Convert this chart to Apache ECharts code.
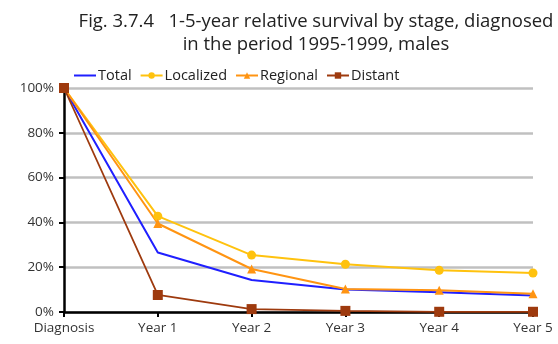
<!DOCTYPE html>
<html>
<head>
<meta charset="utf-8">
<script src="https://cdn.jsdelivr.net/npm/echarts@6/dist/echarts.min.js"></script>
<style>
  html, body { margin: 0; padding: 0; background: #fff; }
  #chart { width: 558px; height: 344px; }
</style>
</head>
<body>
<div id="chart"></div>
<script>
// Relative survival (%) at each follow-up point
const categories = ['Diagnosis', 'Year 1', 'Year 2', 'Year 3', 'Year 4', 'Year 5'];
const total     = [100, 26.6, 14.3, 10.0, 8.8, 7.4];
const localized = [100, 42.8, 25.4, 21.3, 18.6, 17.4];
const regional  = [100, 39.5, 19.2, 10.3, 9.7, 8.2];
const distant   = [100, 7.6, 1.3, 0.5, 0.1, 0.1];
const yTicks = [0, 20, 40, 60, 80, 100];

const chart = echarts.init(document.getElementById('chart'));
const font = '"Open Sans", "Noto Sans", sans-serif';

function line(name, data, color, symbol, size, width) {
  return {
    name, type: 'line', data,
    symbol, symbolSize: size, showSymbol: symbol !== 'none',
    lineStyle: { color, width },
    itemStyle: { color },
    z: 3
  };
}

chart.setOption({
  animation: false,
  title: {
    text: 'Fig. 3.7.4   1-5-year relative survival by stage, diagnosed\nin the period 1995-1999, males',
    left: 311, top: 5, textAlign: 'center',
    textStyle: { fontFamily: font, fontSize: 18.5, fontWeight: 'normal', color: '#222', lineHeight: 23 }
  },
  legend: {
    left: 68, top: 63, itemWidth: 22, itemHeight: 8, itemGap: 8,
    textStyle: { fontFamily: font, fontSize: 14.5, color: '#222', padding: [0, 0, 0, -3] },
    data: [
      { name: 'Total', itemStyle: { opacity: 0 } },
      'Localized', 'Regional', 'Distant'
    ]
  },
  grid: { left: 64, right: 25, top: 88, bottom: 32 },
  xAxis: {
    type: 'category', data: categories, boundaryGap: false,
    axisLine: { lineStyle: { color: '#000', width: 2.5 } },
    axisTick: { show: true, length: 5, lineStyle: { color: '#000', width: 2 } },
    axisLabel: { fontFamily: font, fontSize: 13.5, color: '#333', margin: 9 }
  },
  yAxis: {
    type: 'value', min: 0, max: 100, interval: 20,
    axisLine: { show: true, lineStyle: { color: '#000', width: 2.5 } },
    axisTick: { show: true, length: 5, lineStyle: { color: '#000', width: 2 } },
    axisLabel: {
      fontFamily: font, fontSize: 13.5, color: '#333', margin: 10,
      formatter: v => yTicks.includes(v) ? v + '%' : ''
    },
    splitLine: { lineStyle: { color: '#c0c0c0', width: 2.5 } }
  },
  series: [
    line('Total', total, '#1f1fff', 'none', 0, 2),
    line('Localized', localized, '#ffc20e', 'circle', 9, 2),
    line('Regional', regional, '#ff9412', 'triangle', 9, 2),
    line('Distant', distant, '#9e3a0e', 'rect', 10, 1.8)
  ]
});
</script>
</body>
</html>
